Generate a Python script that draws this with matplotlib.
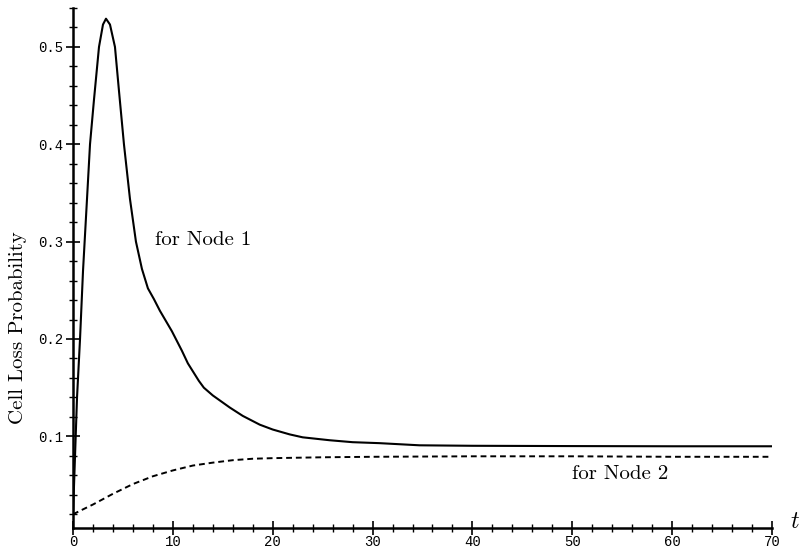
import matplotlib
matplotlib.use("Agg")
import matplotlib.pyplot as plt
from matplotlib.ticker import MultipleLocator, FormatStrFormatter

plt.rcParams["mathtext.fontset"] = "cm"

# Cell loss probability over time for the two nodes
t_node1 = [0, 0.4, 0.7, 1.0, 1.4, 1.7, 2.1, 2.6, 3.0, 3.3, 3.7, 4.2, 4.6, 5.1,
           5.7, 6.3, 6.9, 7.5, 8.1, 8.7, 9.9, 10.9, 11.5, 12.6, 13.1, 14, 15.7,
           17, 18.7, 20, 21.7, 23, 25.7, 28, 30.7, 34.7, 40, 50, 60, 70]
p_node1 = [0.02, 0.14, 0.20, 0.27, 0.344, 0.40, 0.446, 0.50, 0.523, 0.529,
           0.523, 0.50, 0.455, 0.40, 0.344, 0.30, 0.272, 0.252, 0.241, 0.229,
           0.208, 0.188, 0.175, 0.157, 0.150, 0.142, 0.1296, 0.121, 0.112,
           0.107, 0.102, 0.099, 0.096, 0.094, 0.093, 0.0908, 0.0903, 0.090,
           0.0898, 0.0898]

t_node2 = [0, 2, 4, 6, 8, 10, 12, 14, 16, 18, 20, 25, 30, 40, 50, 60, 70]
p_node2 = [0.020, 0.030, 0.041, 0.051, 0.059, 0.065, 0.070, 0.073, 0.0755,
           0.077, 0.0776, 0.0785, 0.079, 0.0795, 0.0795, 0.079, 0.079]

x_major = [0, 10, 20, 30, 40, 50, 60, 70]
y_major = [0.1, 0.2, 0.3, 0.4, 0.5]

fig = plt.figure(figsize=(8.07, 5.51), dpi=100)
ax = fig.add_axes([0.0905, 0.0420, 0.8661, 0.9435])

ax.plot(t_node1, p_node1, color="black", lw=1.5, solid_joinstyle="round")
ax.plot(t_node2, p_node2, color="black", lw=1.4, linestyle=(0, (3, 2)))

ax.set_xlim(0, 70)
ax.set_ylim(0.006, 0.54)

for side in ("top", "right"):
    ax.spines[side].set_visible(False)
for side in ("left", "bottom"):
    ax.spines[side].set_linewidth(1.8)

ax.set_xticks(x_major)
ax.set_yticks(y_major)
ax.xaxis.set_minor_locator(MultipleLocator(2))
ax.yaxis.set_minor_locator(MultipleLocator(0.02))
ax.yaxis.set_major_formatter(FormatStrFormatter("%.1f"))
ax.tick_params(which="major", direction="inout", length=10, width=1.2,
               pad=2)
ax.tick_params(axis="x", which="major", pad=0)
ax.tick_params(which="minor", direction="inout", length=6, width=1.0)
for lab in ax.get_xticklabels() + ax.get_yticklabels():
    lab.set_fontfamily("Liberation Mono")
    lab.set_fontsize(10)

ax.set_ylabel("Cell Loss Probability", family="cmr10", fontsize=15)
ax.yaxis.set_label_coords(-0.066, 0.385)

ax.text(8.2, 0.302, "for Node 1", family="cmr10", fontsize=15,
        va="center", ha="left")
ax.text(50.0, 0.061, "for Node 2", family="cmr10", fontsize=15,
        va="center", ha="left")
ax.text(71.8, 0.013, "$t$", fontsize=17, va="center", ha="left")

fig.savefig("out.png", dpi=100)
